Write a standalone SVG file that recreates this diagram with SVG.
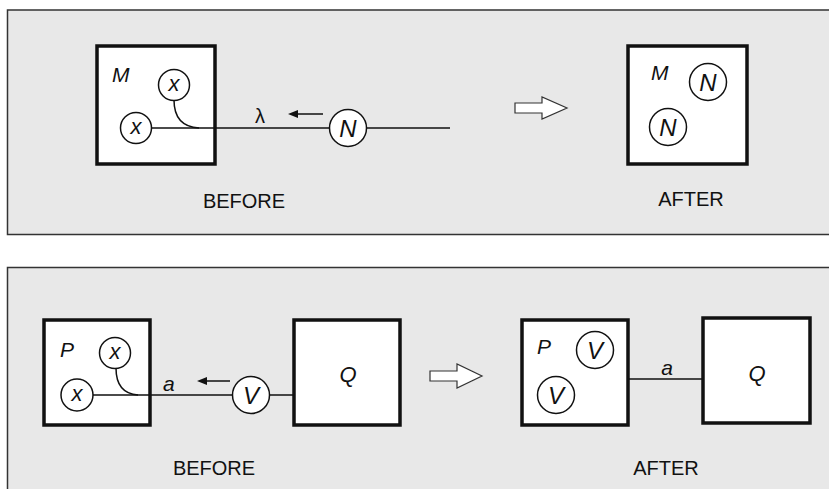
<svg xmlns="http://www.w3.org/2000/svg" width="829" height="489" viewBox="0 0 829 489">
<style>
.panel{fill:#e8e8e8;stroke:#333;stroke-width:1.5}
.box{fill:#fff;stroke:#111;stroke-width:3.5}
.circ{fill:#fff;stroke:#111;stroke-width:1.5}
.ln{fill:none;stroke:#111;stroke-width:1.5}
.head{fill:#111}
.hollow{fill:#fff;stroke:#333;stroke-width:1.2}
.lab{font-family:"Liberation Sans",Arial,sans-serif;font-style:italic;font-size:21px;fill:#111}
.big{font-size:24px}
.sx{font-size:22px}
.cap{font-family:"Liberation Sans",Arial,sans-serif;font-size:20px;fill:#111;text-anchor:middle}
.mid{text-anchor:middle}
</style>
<rect width="829" height="489" fill="#fff"/>
<rect class="panel" x="7.5" y="10" width="830" height="224.5"/>
<rect class="panel" x="7.5" y="267.5" width="830" height="240"/>

<g id="top-before-M">
<rect class="box" x="97" y="46" width="118" height="118"/>
<text class="lab" x="112" y="82">M</text>
</g>
<g id="top-after-M">
<rect class="box" x="628" y="46" width="119" height="118"/>
<text class="lab" x="651" y="80">M</text>
</g>
<g id="bot-before-P">
<rect class="box" x="44" y="320" width="106" height="105"/>
<text class="lab" x="60" y="357">P</text>
</g>
<g id="bot-before-Q">
<rect class="box" x="294" y="320" width="106" height="105"/>
<text class="lab mid" x="348" y="382" style="font-size:22px">Q</text>
</g>
<g id="bot-after-P">
<rect class="box" x="522" y="320" width="106" height="105"/>
<text class="lab" x="537" y="354">P</text>
</g>
<g id="bot-after-Q">
<rect class="box" x="703" y="318" width="107" height="105"/>
<text class="lab mid" x="757" y="381" style="font-size:22px">Q</text>
</g>

<g id="connectors">
<path class="ln" d="M151,128 H329.5 M366.5,128 H450"/>
<path class="ln" d="M174,100 C174,118 182,127 199,128"/>
<path class="ln" d="M323,114 H296"/>
<polygon class="head" points="288,114 298,110 298,118"/>
<path class="ln" d="M93,395 H232 M270,395 H294"/>
<path class="ln" d="M116,368 C116,385 124,394 138,395"/>
<path class="ln" d="M230,381 H205"/>
<polygon class="head" points="197,381 207,377 207,385"/>
<path class="ln" d="M628,379 H703"/>
<path class="hollow" d="M515,103 H542 V97 L567,108 L542,119 V113 H515 Z"/>
<path class="hollow" d="M430,371 H457 V364 L482,376 L457,388 V381 H430 Z"/>
</g>

<g id="top-before-x1">
<circle class="circ" cx="174" cy="85" r="15.5"/>
<text class="lab sx mid" x="174" y="91">x</text>
</g>
<g id="top-before-x2">
<circle class="circ" cx="136" cy="128" r="15.5"/>
<text class="lab sx mid" x="136" y="134">x</text>
</g>
<text class="cap" x="260" y="123" style="font-size:20px">λ</text>
<g id="top-before-N">
<circle class="circ" cx="348" cy="128" r="18.5"/>
<text class="lab big mid" x="348" y="137">N</text>
</g>
<text class="cap" x="244" y="208">BEFORE</text>

<g id="top-after-N1">
<circle class="circ" cx="708" cy="82" r="18.5"/>
<text class="lab big mid" x="708" y="91">N</text>
</g>
<g id="top-after-N2">
<circle class="circ" cx="668" cy="127" r="18.5"/>
<text class="lab big mid" x="668" y="136">N</text>
</g>
<text class="cap" x="691" y="206">AFTER</text>

<g id="bot-before-x1">
<circle class="circ" cx="115" cy="353" r="15.5"/>
<text class="lab sx mid" x="115" y="359">x</text>
</g>
<g id="bot-before-x2">
<circle class="circ" cx="77" cy="395" r="16"/>
<text class="lab sx mid" x="77" y="401">x</text>
</g>
<text class="lab" x="163" y="391">a</text>
<g id="bot-before-V">
<circle class="circ" cx="251" cy="395" r="18.5"/>
<text class="lab big mid" x="251" y="404">V</text>
</g>
<text class="cap" x="214" y="475">BEFORE</text>

<g id="bot-after-V1">
<circle class="circ" cx="595" cy="350" r="18.5"/>
<text class="lab big mid" x="595" y="359">V</text>
</g>
<g id="bot-after-V2">
<circle class="circ" cx="556" cy="395" r="18.5"/>
<text class="lab big mid" x="556" y="404">V</text>
</g>
<text class="lab mid" x="667" y="375">a</text>
<text class="cap" x="666" y="475">AFTER</text>
</svg>
